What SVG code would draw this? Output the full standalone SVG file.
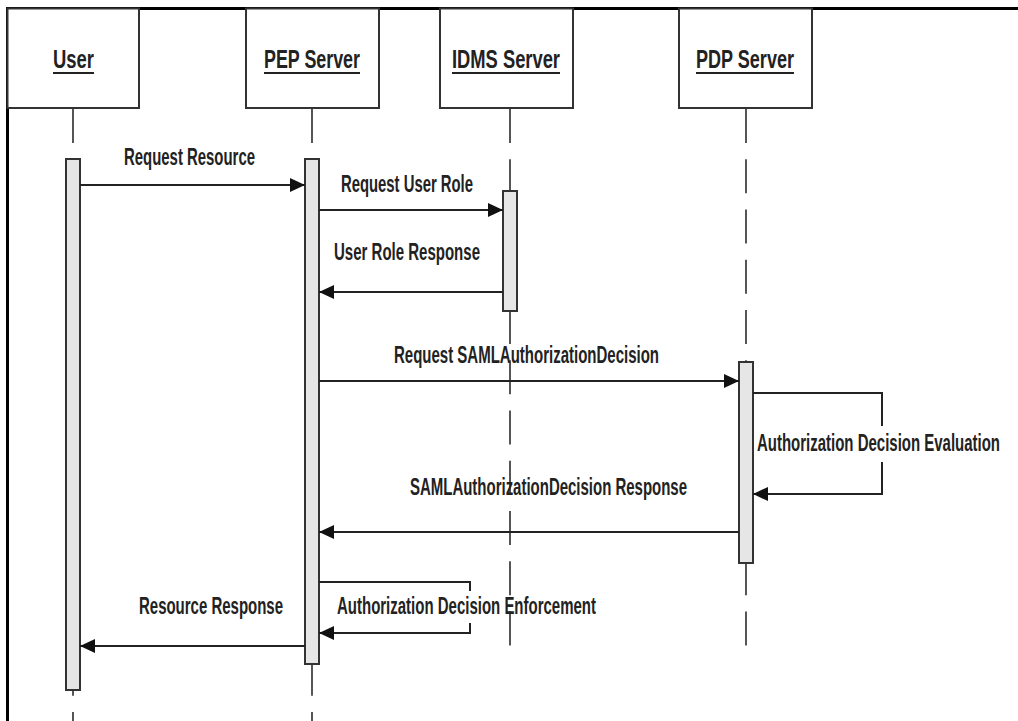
<svg xmlns="http://www.w3.org/2000/svg" width="1018" height="721" viewBox="0 0 1018 721">
  <style>
    .frame { stroke: #000; stroke-width: 3; fill: none; }
    .box { fill: #fff; stroke: #333; stroke-width: 2; }
    .head { font-family: "Liberation Sans Narrow", "Liberation Sans", Arial, sans-serif; font-size: 25px; font-weight: bold; fill: #222; }
    .uline { stroke: #222; stroke-width: 2; }
    .life { stroke: #444; stroke-width: 1.8; stroke-dasharray: 34 16.25; fill: none; }
    .act { fill: #e6e6e6; stroke: #333; stroke-width: 2; }
    .msg { stroke: #222; stroke-width: 2; fill: none; }
    .lbl { font-family: "Liberation Sans Narrow", "Liberation Sans", Arial, sans-serif; font-size: 23px; font-weight: bold; fill: #222; }
  </style>
  <defs>
    <marker id="arrow" markerUnits="userSpaceOnUse" markerWidth="15" markerHeight="14" refX="15" refY="7" orient="auto">
      <path d="M0,0 L15,7 L0,14 Z" fill="#111"/>
    </marker>
  </defs>

  <rect width="1018" height="721" fill="#fff"/>

  <!-- outer frame (left and top edges) -->
  <path class="frame" d="M7.5,721 V8.5 H1018"/>

  <!-- lifelines -->
  <g id="lifelines">
    <line class="life" x1="73" y1="109" x2="73" y2="721"/>
    <line class="life" x1="312" y1="109" x2="312" y2="721"/>
    <line class="life" x1="510" y1="109" x2="510" y2="646"/>
    <line class="life" x1="746" y1="109" x2="746" y2="646"/>
  </g>

  <!-- participants -->
  <g id="user">
    <rect class="box" x="7.5" y="8.5" width="131.5" height="99.5"/>
    <text class="head" x="53" y="68" textLength="41" lengthAdjust="spacingAndGlyphs">User</text>
    <line class="uline" x1="53" y1="73" x2="94" y2="73"/>
    <rect class="act" x="66" y="159" width="14" height="531"/>
  </g>
  <g id="pep-server">
    <rect class="box" x="246" y="8.5" width="133" height="99.5"/>
    <text class="head" x="264" y="68" textLength="96" lengthAdjust="spacingAndGlyphs">PEP Server</text>
    <line class="uline" x1="264" y1="73" x2="360" y2="73"/>
    <rect class="act" x="305" y="159" width="14" height="505"/>
  </g>
  <g id="idms-server">
    <rect class="box" x="440" y="8.5" width="133" height="99.5"/>
    <text class="head" x="452" y="68" textLength="108" lengthAdjust="spacingAndGlyphs">IDMS Server</text>
    <line class="uline" x1="452" y1="73" x2="560" y2="73"/>
    <rect class="act" x="503" y="191" width="14" height="120"/>
  </g>
  <g id="pdp-server">
    <rect class="box" x="679" y="8.5" width="133" height="99.5"/>
    <text class="head" x="696" y="68" textLength="98" lengthAdjust="spacingAndGlyphs">PDP Server</text>
    <line class="uline" x1="696" y1="73" x2="794" y2="73"/>
    <rect class="act" x="739" y="362" width="14" height="201"/>
  </g>

  <!-- messages -->
  <g id="connectors">
    <line class="msg" x1="80" y1="185" x2="305" y2="185" marker-end="url(#arrow)"/>
    <line class="msg" x1="319" y1="210" x2="503" y2="210" marker-end="url(#arrow)"/>
    <line class="msg" x1="503" y1="292" x2="319" y2="292" marker-end="url(#arrow)"/>
    <line class="msg" x1="319" y1="381" x2="739" y2="381" marker-end="url(#arrow)"/>
    <path class="msg" d="M753,393 H882 V426"/>
    <path class="msg" d="M882,462 V494 H753" marker-end="url(#arrow)"/>
    <line class="msg" x1="739" y1="532" x2="319" y2="532" marker-end="url(#arrow)"/>
    <path class="msg" d="M319,582 H470 V591"/>
    <path class="msg" d="M470,623 V633 H319" marker-end="url(#arrow)"/>
    <line class="msg" x1="305" y1="646" x2="80" y2="646" marker-end="url(#arrow)"/>
  </g>

  <!-- message labels -->
  <g id="labels">
    <text class="lbl" x="124" y="165" textLength="131" lengthAdjust="spacingAndGlyphs">Request Resource</text>
    <text class="lbl" x="341" y="192" textLength="132" lengthAdjust="spacingAndGlyphs">Request User Role</text>
    <text class="lbl" x="334" y="260" textLength="146" lengthAdjust="spacingAndGlyphs">User Role Response</text>
    <text class="lbl" x="394" y="363" textLength="265" lengthAdjust="spacingAndGlyphs">Request SAMLAuthorizationDecision</text>
    <text class="lbl" x="757" y="451" textLength="243" lengthAdjust="spacingAndGlyphs">Authorization Decision Evaluation</text>
    <text class="lbl" x="410" y="495" textLength="277" lengthAdjust="spacingAndGlyphs">SAMLAuthorizationDecision Response</text>
    <text class="lbl" x="139" y="614" textLength="144" lengthAdjust="spacingAndGlyphs">Resource Response</text>
    <text class="lbl" x="337" y="614" textLength="259" lengthAdjust="spacingAndGlyphs">Authorization Decision Enforcement</text>
  </g>
</svg>
